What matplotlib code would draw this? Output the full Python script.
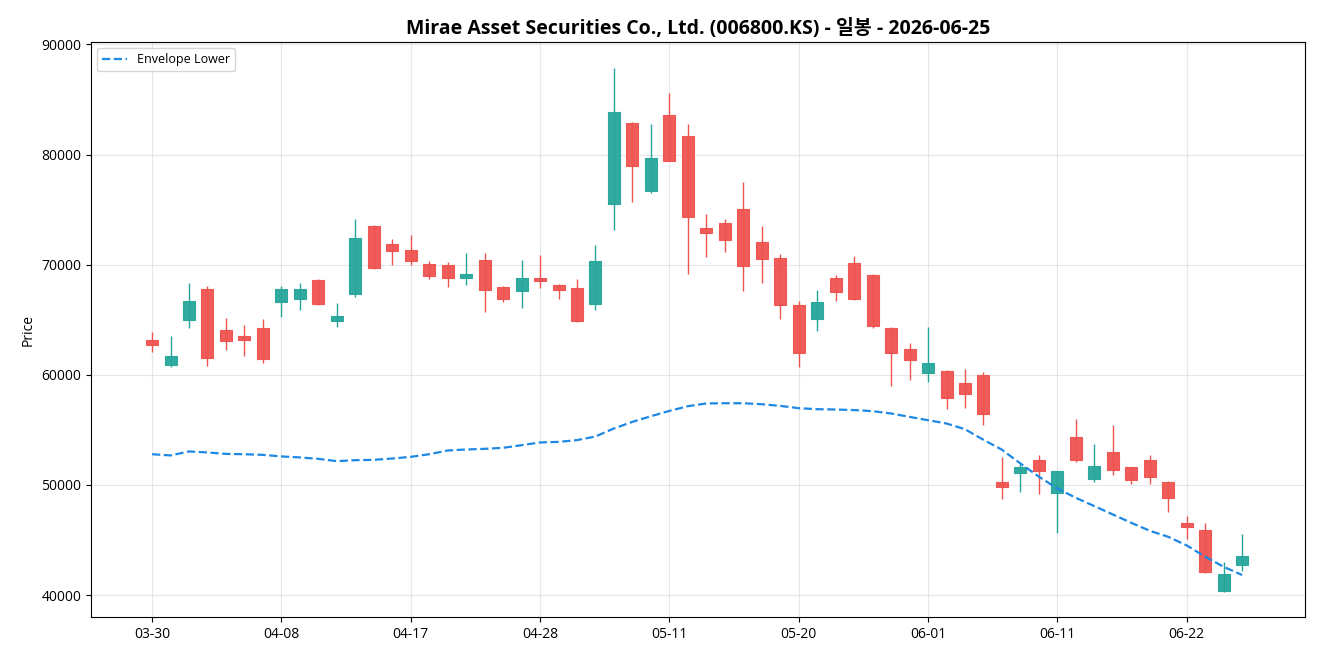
import numpy as np
import matplotlib
matplotlib.use("Agg")
import matplotlib.pyplot as plt

plt.rcParams['font.family'] = ['Open Sans', 'Noto Sans CJK KR', 'DejaVu Sans']

# trading days (index based, no weekend gaps)
dates = ["03-30","03-31","04-01","04-02","04-03","04-06","04-07","04-08","04-09","04-10",
         "04-13","04-14","04-15","04-16","04-17","04-20","04-21","04-22","04-23","04-24",
         "04-27","04-28","04-29","04-30","05-04","05-06","05-07","05-08","05-11","05-12",
         "05-13","05-14","05-15","05-18","05-19","05-20","05-21","05-22","05-26","05-27",
         "05-28","05-29","06-01","06-02","06-04","06-05","06-08","06-09","06-10","06-11",
         "06-12","06-15","06-16","06-17","06-18","06-19","06-22","06-23","06-24","06-25"]

opens = [63200, 60930, 65020, 67830, 64110, 63480, 64290, 66610, 66890, 68650,
         64930, 67380, 73550, 71910, 71370, 70100, 70010, 68830, 70460, 68010,
         67650, 68830, 68190, 67920, 66470, 75540, 82890, 76720, 83620, 81710,
         73370, 73820, 75090, 72100, 70640, 66380, 65110, 68830, 70190, 69100,
         64290, 62390, 60210, 60390, 59300, 59940, 50230, 51130, 52310, 49230,
         54310, 50500, 52950, 51590, 52310, 50230, 46510, 45870, 40340, 42720]
highs = [63870, 63500, 68310, 68070, 65140, 64500, 65040, 68040, 68310, 68680,
         66500, 74120, 73610, 72300, 72670, 70310, 70220, 71030, 71030, 68040,
         70400, 70850, 68250, 68670, 71760, 87820, 82920, 82740, 85550, 82740,
         74570, 74120, 77480, 73510, 70970, 66710, 67680, 69040, 70790, 69130,
         64380, 62870, 64320, 60400, 60510, 60240, 52550, 51890, 52700, 51230,
         55970, 53700, 55430, 51600, 52700, 50370, 47170, 46530, 42990, 45540]
lows = [62080, 60720, 64260, 60810, 62260, 61710, 61080, 65250, 65860, 66380,
        64350, 67070, 69580, 69970, 70010, 68670, 67950, 68160, 65710, 66610,
        66070, 67880, 66890, 64770, 65890, 73150, 75690, 76510, 79400, 69160,
        70700, 71150, 67610, 68340, 65070, 60720, 63980, 66710, 66800, 64290,
        58990, 59540, 59360, 56910, 57000, 55450, 48740, 49320, 49140, 45650,
        52100, 50280, 50920, 50100, 50100, 47530, 45110, 42020, 40300, 42210]
closes = [62750, 61690, 66740, 61570, 63110, 63200, 61440, 67830, 67830, 66430,
          65380, 72460, 69740, 71280, 70370, 69010, 68830, 69190, 67740, 66920,
          68830, 68560, 67740, 64860, 70370, 83890, 78990, 79720, 79450, 74300,
          72910, 72280, 69920, 70550, 66380, 62020, 66590, 67560, 66890, 64470,
          62020, 61390, 61030, 57850, 58300, 56400, 49800, 51590, 51230, 51230,
          52310, 51680, 51320, 50410, 50680, 48780, 46140, 42110, 41880, 43510]

env_lower = [52790, 52680, 53040, 52950, 52820, 52790, 52730, 52590, 52500, 52370,
             52160, 52250, 52280, 52400, 52550, 52790, 53130, 53220, 53280, 53370,
             53610, 53860, 53910, 54070, 54400, 55130, 55730, 56240, 56720, 57150,
             57400, 57420, 57420, 57330, 57180, 56970, 56880, 56850, 56800, 56700,
             56490, 56180, 55880, 55580, 55060, 54100, 53200, 51950, 50750, 49680,
             48830, 48080, 47320, 46560, 45840, 45290, 44510, 43480, 42570, 41820]

o = np.array(opens)
h = np.array(highs)
l = np.array(lows)
c = np.array(closes)
x = np.arange(len(dates))
up = c >= o
colors = np.where(up, '#26a69a', '#ef5350')

fig, ax = plt.subplots(figsize=(13.2, 6.6), dpi=100)

# wicks then bodies
ax.vlines(x, l, h, colors=colors, linewidth=1, zorder=2)
ax.bar(x, np.abs(c - o), bottom=np.minimum(o, c), width=0.65,
       color=colors, edgecolor=colors, linewidth=0.8, alpha=0.95, zorder=3)

ax.plot(x, env_lower, linestyle='--', color='#1e88e5', linewidth=1.6,
        label='Envelope Lower', zorder=4)

ax.set_title('Mirae Asset Securities Co., Ltd. (006800.KS) - 일봉 - 2026-06-25',
             fontsize=14, fontweight='bold')
ax.set_ylabel('Price', fontsize=10)
ax.set_xticks(x[::7])
ax.set_xticklabels([dates[i] for i in x[::7]], fontsize=10)
ax.tick_params(axis='y', labelsize=10)
ax.set_xlim(-3.3, 62.4)
ax.set_ylim(38000, 90200)
ax.grid(True, alpha=0.3)
ax.legend(loc='upper left', fontsize=9)

plt.subplots_adjust(left=0.069, right=0.9886, top=0.936, bottom=0.065)
plt.savefig('out.png', dpi=100)
